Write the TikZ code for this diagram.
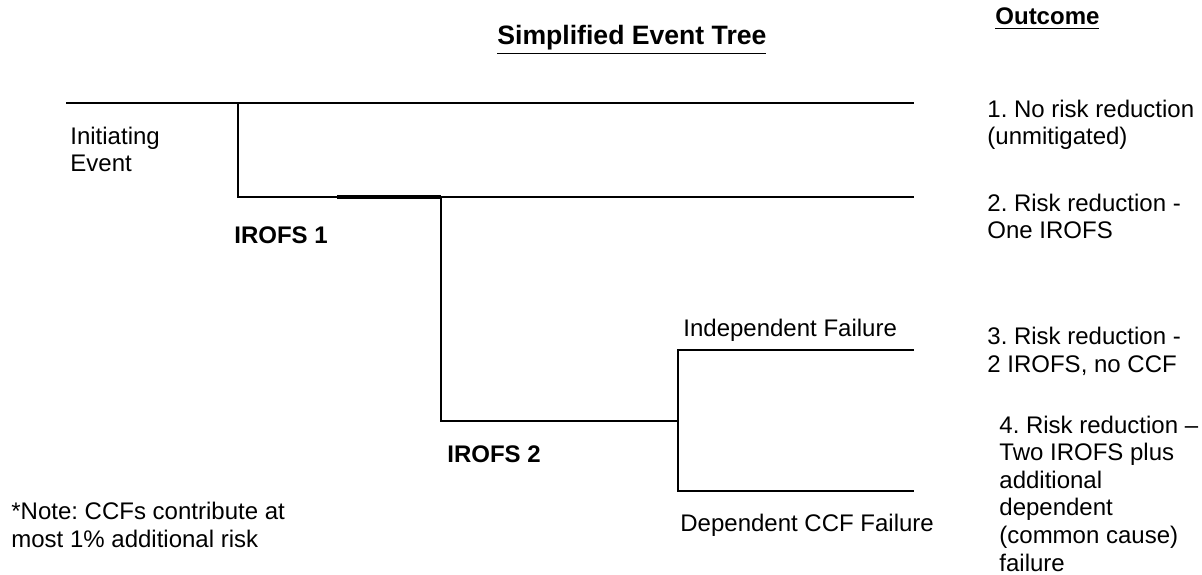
\documentclass[tikz,border=0pt]{standalone}
\usepackage{fontspec}
\setmainfont{Liberation Sans}
\usetikzlibrary{positioning}

\tikzset{
	branch/.style={line width=1bp},
	lbl/.style={inner sep=0pt, anchor=base west, align=left,
		font=\fontsize{12bp}{13.8bp}\selectfont},
	head/.style={lbl, font=\fontsize{12bp}{13.8bp}\selectfont\bfseries},
}
\frenchspacing

\begin{document}
\begin{tikzpicture}[x=0.5bp,y=-0.5bp]
	\useasboundingbox (0,0) rectangle (1202,575);
	% branch points and ends
	\coordinate (ie) at (66,103);
	\coordinate (s1) at (238,103);
	\coordinate (s2) at (441,197);
	\coordinate (k1) at (337,197);
	\coordinate (k2) at (596,421);
	\coordinate (s3) at (678,421);
	\coordinate (end1) at (914,103);
	\coordinate (end2) at (914,197);
	\coordinate (end3) at (914,350);
	\coordinate (end4) at (914,491);
	\draw[branch]
		(ie) -- (end1)
		(s1) |- (end2)
		(s2) |- (s3)
		(end3) -| (s3) |- (end4);
	\draw[line width=1.6bp] (k1) -- (s2);
	\draw[line width=1.2bp] (k2) -- (s3);
	% headings
	\node[head, font=\fontsize{13.3bp}{15bp}\selectfont\bfseries] (title) at (497,45)
		{\underline{Simplified Event Tree}};
	\node[head] (outcome) at (995,25) {\underline{Outcome}};
	% tree labels (base = last line)
	\node[lbl] (init) at (70,172) {Initiating\\Event};
	\node[head] (irofs1) at (234,243) {IROFS 1};
	\node[head] (irofs2) at (447,462) {IROFS 2};
	\node[lbl] (indep) at (683,336) {Independent Failure};
	\node[lbl] (dep) at (680,531) {Dependent CCF Failure};
	\node[lbl] (note) at (11,547) {*Note: CCFs contribute at\\most 1\% additional risk};
	% outcomes
	\node[lbl] (out1) at (987,145) {1. No risk reduction\\(unmitigated)};
	\node[lbl] (out2) at (987,239) {2. Risk reduction -\\One IROFS};
	\node[lbl] (out3) at (987,372) {3. Risk reduction -\\2 IROFS, no CCF};
	\node[lbl] (out4) at (999,571) {4. Risk reduction –\\Two IROFS plus\\additional\\dependent\\(common cause)\\failure};
\end{tikzpicture}
\end{document}
